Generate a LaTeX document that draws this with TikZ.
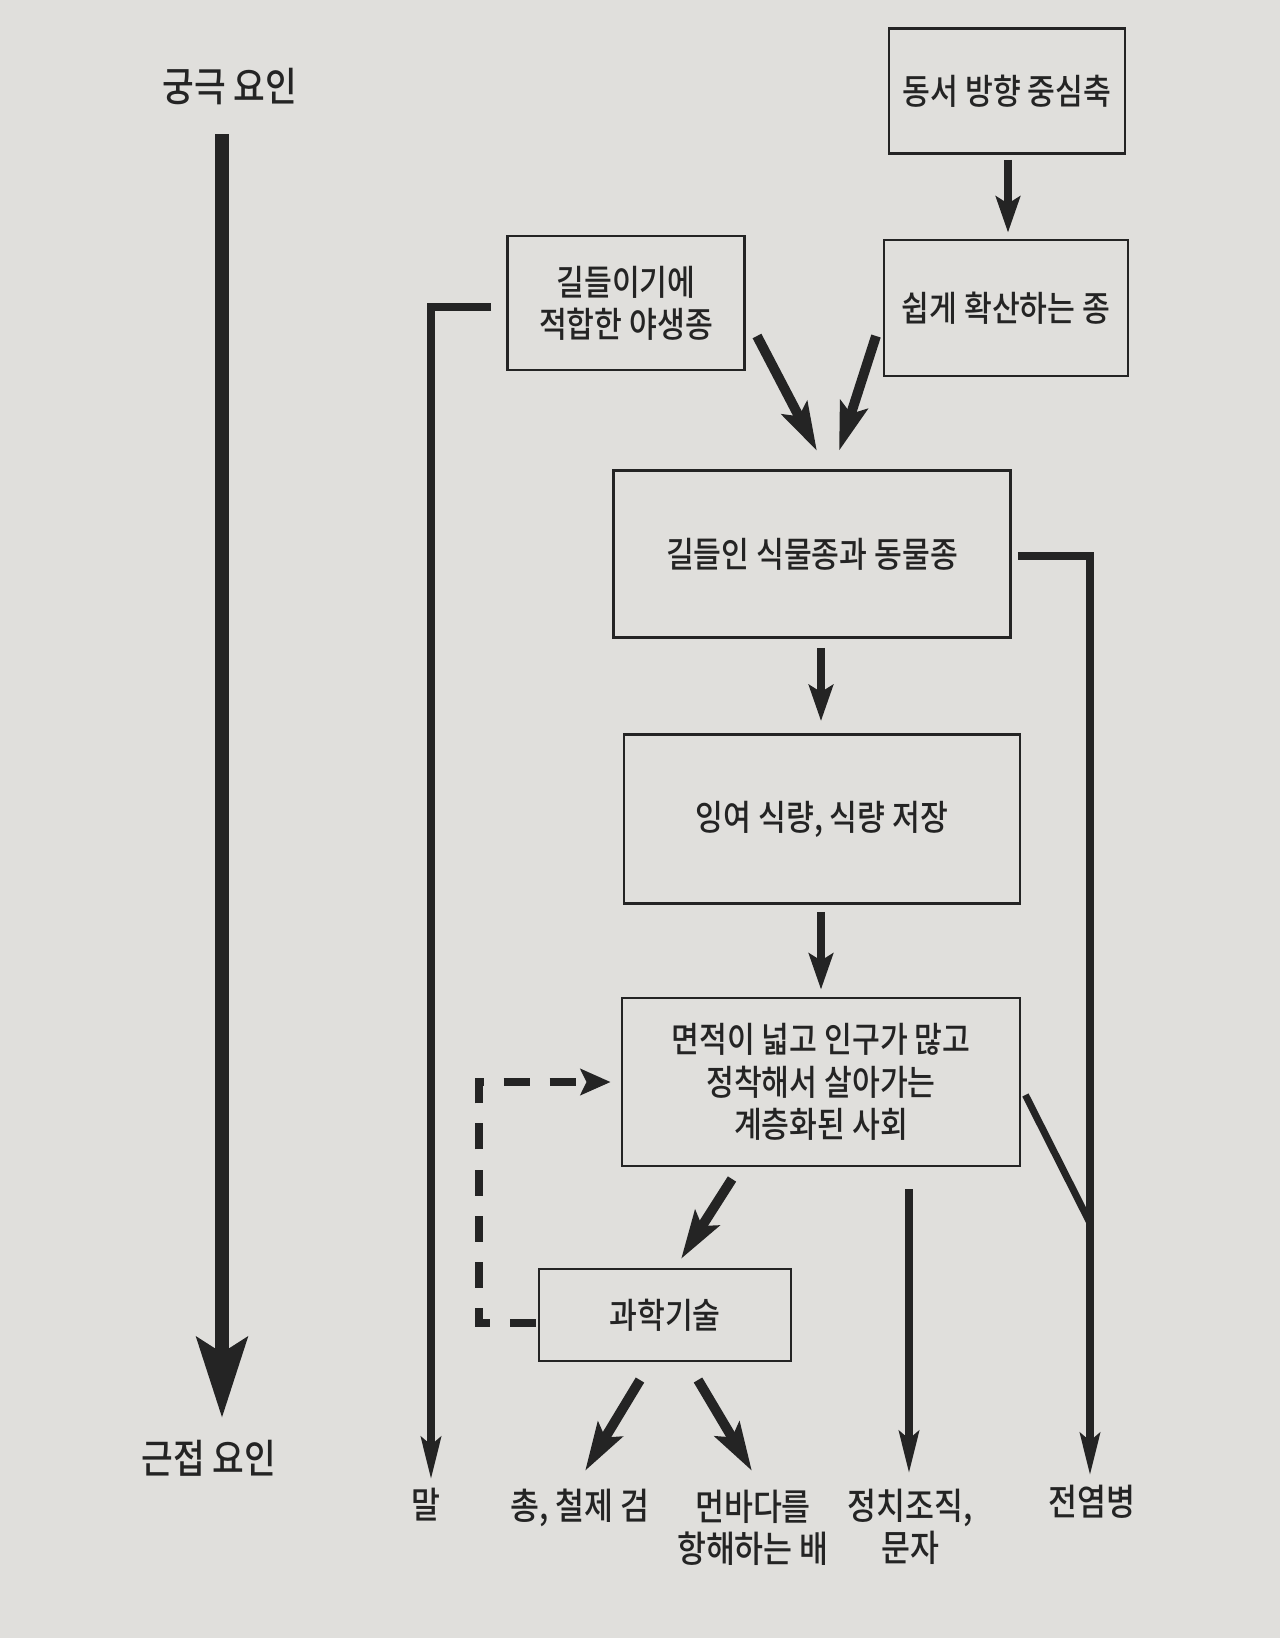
\documentclass[tikz,border=0pt]{standalone}
\usepackage{fontspec}
\setmainfont{Noto Sans CJK KR}[UprightFont={* Medium}, FakeStretch=0.86]
\usetikzlibrary{arrows.meta,calc}
\definecolor{ink}{RGB}{36,36,36}
\definecolor{paper}{RGB}{224,223,220}
\begin{document}
\begin{tikzpicture}[x=0.01cm,y=-0.01cm,
  every node/.style={font=\fontsize{10}{12}\selectfont, text=ink, align=center, inner sep=0pt},
  title/.style={font=\fontsize{11.4}{13}\selectfont},
  outcome/.style={font=\fontsize{10.4}{11.8}\selectfont},
  box/.style={draw=ink, line width=0.75pt},
  arr/.style={draw=ink, line width=2.5pt, -{Stealth[length=0.36cm,width=0.24cm,inset=0.07cm]}},
  longarr/.style={draw=ink, line width=2pt, -{Stealth[length=0.42cm,width=0.2cm,inset=0.08cm]}},
  diagarr/.style={draw=ink, line width=2.8pt, -{Stealth[length=0.48cm,width=0.28cm,inset=0.09cm]}},
  bigarr/.style={draw=ink, line width=4pt, -{Stealth[length=0.8cm,width=0.5cm,inset=0.15cm]}},
  plain/.style={draw=ink, line width=2pt},
  dashconn/.style={draw=ink, line width=2.4pt, dash pattern=on 0.26cm off 0.2cm, -{Stealth[length=0.3cm,width=0.26cm,inset=0.06cm]}}]
\fill[paper] (0,0) rectangle (1280,1638);
\useasboundingbox (0,0) rectangle (1280,1638);

% labels of the time axis
\node[title] (top) at (230,87) {궁극 요인};
\node[title] (bot) at (209,1458) {근접 요인};
\coordinate (t1) at (222,134);
\coordinate (t2) at (222,1418);
\draw[bigarr] (t1) -- (t2);

% boxes
\node[box, minimum width=2.36cm, minimum height=1.25cm] (A) at (1007,91) {동서 방향 중심축};
\node[box, minimum width=2.44cm, minimum height=1.36cm] (B) at (1006,308) {쉽게 확산하는 종};
\node[box, minimum width=2.37cm, minimum height=1.34cm] (C) at (626,303) {길들이기에\\적합한 야생종};
\node[box, minimum width=3.97cm, minimum height=1.67cm] (D) at (812,554) {길들인 식물종과 동물종};
\node[box, minimum width=3.96cm, minimum height=1.69cm] (E) at (822,819) {잉여 식량, 식량 저장};
\node[box, minimum width=3.98cm, minimum height=1.68cm] (F) at (821,1082) {면적이 넓고 인구가 많고\\정착해서 살아가는\\계층화된 사회};
\node[box, minimum width=2.52cm, minimum height=0.92cm] (G) at (665,1315) {과학기술};

% bottom outcomes
\node[outcome] (horse) at (426,1505) {말};
\node[outcome] (gun) at (580,1508) {총, 철제 검};
\node[outcome] (ship) at (753,1528) {먼바다를\\항해하는 배};
\node[outcome] (pol) at (910,1527) {정치조직,\\문자};
\node[outcome] (dis) at (1092,1502) {전염병};

% vertical flow
\draw[arr] ($(A.south)+(1,5)$) -- ($(B.north)+(2,-6)$);
\draw[arr] ($(D.south)+(9,9)$) -- ($(E.north)+(-1,-12)$);
\draw[arr] ($(E.south)+(-1,7)$) -- ($(F.north)+(0,-7)$);

% convergent arrows into D
\coordinate (c1) at (757,336);
\coordinate (c2) at (817,451);
\coordinate (b1) at (876,336);
\coordinate (b2) at (839,451);
\draw[diagarr] (c1) -- (c2);
\draw[diagarr] (b1) -- (b2);

% F to G
\coordinate (f1) at (732,1179);
\coordinate (g1) at (681,1259);
\draw[diagarr] (f1) -- (g1);

% G to outcomes
\coordinate (g2) at (640,1380);
\coordinate (g3) at (585,1471);
\coordinate (g4) at (698,1380);
\coordinate (g5) at (752,1471);
\draw[diagarr] (g2) -- (g3);
\draw[diagarr] (g4) -- (g5);

% F to political organisation
\coordinate (p1) at (909,1189);
\coordinate (p2) at (909,1473);
\draw[longarr] (p1) -- (p2);

% C to horse
\coordinate (h2) at (431,1479);
\draw[longarr] ($(C.west)+(-15,4)$) -| (h2);

% D to disease
\coordinate (d2) at (1090,1475);
\coordinate (dj) at (1090,1223);
\draw[longarr] ($(D.east)+(6,2)$) -| (d2);
\draw[plain] ($(F.east)+(4,13)$) -- (dj);

% feedback from G to F
\coordinate (dc) at (479,1082);
\draw[dashconn] ($(G.west)+(-2,8)$) -| (dc) -- ($(F.west)+(-10,0)$);
\end{tikzpicture}
\end{document}
